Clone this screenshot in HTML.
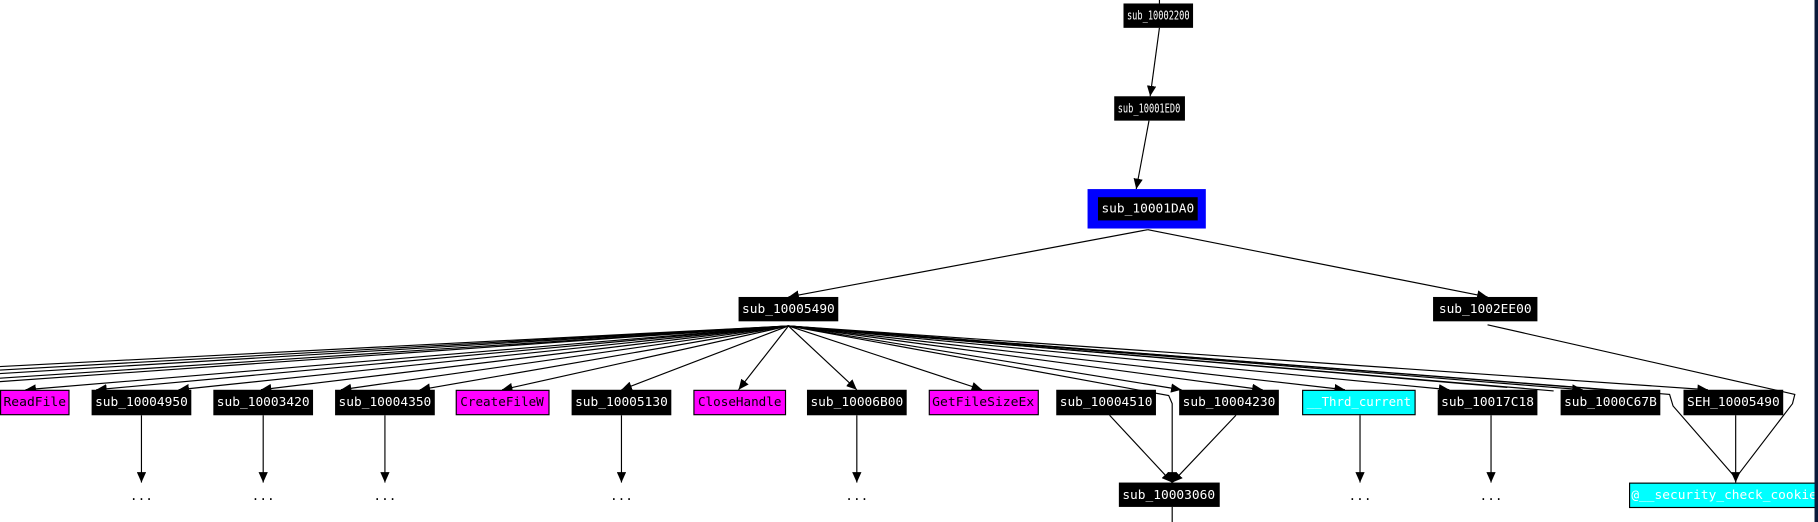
<!DOCTYPE html>
<html><head><meta charset="utf-8"><style>
html,body{margin:0;padding:0;background:#fff;width:1818px;height:522px;overflow:hidden}
svg{display:block}
text{font-family:"DejaVu Sans Mono","Liberation Mono",monospace;font-size:11px;dominant-baseline:central;text-anchor:middle}
</style></head><body>
<svg width="1818" height="522" viewBox="0 0 1568 450" preserveAspectRatio="none" xmlns="http://www.w3.org/2000/svg">
<defs><marker id="a" markerWidth="9" markerHeight="8" refX="9" refY="4" orient="auto" markerUnits="userSpaceOnUse" viewBox="0 0 9 8"><path d="M0,0 L9,4 L0,8 z" fill="#000" stroke="none"/></marker></defs>
<g stroke="#000" stroke-width="1" fill="none">
<line x1="1000" y1="0" x2="1000" y2="3"/>
<line x1="1000" y1="24" x2="992" y2="83" marker-end="url(#a)"/>
<line x1="991" y1="104" x2="980" y2="163" marker-end="url(#a)"/>
<line x1="990" y1="198" x2="680" y2="256" marker-end="url(#a)"/>
<line x1="990" y1="198" x2="1283" y2="256" marker-end="url(#a)"/>
<line x1="680" y1="281" x2="0" y2="316"/>
<line x1="680" y1="281" x2="0" y2="319"/>
<line x1="680" y1="281" x2="0" y2="322"/>
<line x1="680" y1="281" x2="0" y2="326"/>
<line x1="680" y1="281" x2="0" y2="329"/>
<line x1="680" y1="281" x2="22" y2="336" marker-end="url(#a)"/>
<line x1="680" y1="281" x2="83" y2="336" marker-end="url(#a)"/>
<line x1="680" y1="281" x2="154" y2="336" marker-end="url(#a)"/>
<line x1="680" y1="281" x2="225" y2="336" marker-end="url(#a)"/>
<line x1="680" y1="281" x2="294" y2="336" marker-end="url(#a)"/>
<line x1="680" y1="281" x2="362" y2="336" marker-end="url(#a)"/>
<line x1="680" y1="281" x2="433" y2="336" marker-end="url(#a)"/>
<line x1="680" y1="281" x2="536" y2="336" marker-end="url(#a)"/>
<line x1="680" y1="281" x2="637" y2="336" marker-end="url(#a)"/>
<line x1="680" y1="281" x2="739" y2="336" marker-end="url(#a)"/>
<line x1="680" y1="281" x2="847" y2="336" marker-end="url(#a)"/>
<line x1="680" y1="281" x2="1019" y2="336" marker-end="url(#a)"/>
<line x1="680" y1="281" x2="1089" y2="336" marker-end="url(#a)"/>
<line x1="680" y1="281" x2="1160" y2="336" marker-end="url(#a)"/>
<line x1="680" y1="281" x2="1250" y2="336" marker-end="url(#a)"/>
<line x1="680" y1="281" x2="1365" y2="336" marker-end="url(#a)"/>
<line x1="680" y1="281" x2="1473" y2="336" marker-end="url(#a)"/>
<line x1="680" y1="281" x2="1300" y2="334"/>
<line x1="680" y1="281" x2="1340" y2="337"/>
<line x1="680" y1="281" x2="1385" y2="336"/>
<polyline points="680,281 1008,341 1011,348 1011,416" marker-end="url(#a)"/>
<polyline points="680,281 1440,340 1443,350 1497,412"/>
<polyline points="1283,280 1548,340 1546,348 1497,412"/>
<line x1="1497" y1="358" x2="1497" y2="416" marker-end="url(#a)"/>
<line x1="957" y1="358" x2="1011" y2="416" marker-end="url(#a)"/>
<line x1="1066" y1="358" x2="1011" y2="416" marker-end="url(#a)"/>
<line x1="1011" y1="437" x2="1011" y2="450"/>
<line x1="122" y1="358" x2="122" y2="416" marker-end="url(#a)"/>
<line x1="227" y1="358" x2="227" y2="416" marker-end="url(#a)"/>
<line x1="332" y1="358" x2="332" y2="416" marker-end="url(#a)"/>
<line x1="536" y1="358" x2="536" y2="416" marker-end="url(#a)"/>
<line x1="739" y1="358" x2="739" y2="416" marker-end="url(#a)"/>
<line x1="1173" y1="358" x2="1173" y2="416" marker-end="url(#a)"/>
<line x1="1286" y1="358" x2="1286" y2="416" marker-end="url(#a)"/>
</g>
<g lengthAdjust="spacingAndGlyphs">
<rect x="969" y="3" width="60" height="21" fill="#000"/><text x="999" y="14" fill="#fff" textLength="54" lengthAdjust="spacingAndGlyphs">sub_10002200</text>
<rect x="961" y="83" width="61" height="21" fill="#000"/><text x="991" y="94" fill="#fff" textLength="54" lengthAdjust="spacingAndGlyphs">sub_10001ED0</text>
<rect x="938" y="163" width="102" height="34" fill="#0000ff"/>
<rect x="947" y="170" width="86" height="20" fill="#000"/><text x="990" y="180" fill="#fff" textLength="80" lengthAdjust="spacingAndGlyphs">sub_10001DA0</text>
<rect x="637" y="256" width="86" height="21" fill="#000"/><text x="680" y="267" fill="#fff" textLength="80" lengthAdjust="spacingAndGlyphs">sub_10005490</text>
<rect x="1236" y="256" width="90" height="21" fill="#000"/><text x="1281" y="267" fill="#fff" textLength="80" lengthAdjust="spacingAndGlyphs">sub_1002EE00</text>

<rect x="0.5" y="336.5" width="59" height="21" fill="#ff00ff" stroke="#000"/><text x="30" y="347" fill="#000" textLength="54" lengthAdjust="spacingAndGlyphs">ReadFile</text>
<rect x="79" y="336" width="86" height="22" fill="#000"/><text x="122" y="347" fill="#fff" textLength="80" lengthAdjust="spacingAndGlyphs">sub_10004950</text>
<rect x="184" y="336" width="86" height="22" fill="#000"/><text x="227" y="347" fill="#fff" textLength="80" lengthAdjust="spacingAndGlyphs">sub_10003420</text>
<rect x="289" y="336" width="86" height="22" fill="#000"/><text x="332" y="347" fill="#fff" textLength="80" lengthAdjust="spacingAndGlyphs">sub_10004350</text>
<rect x="393.5" y="336.5" width="80" height="21" fill="#ff00ff" stroke="#000"/><text x="433" y="347" fill="#000" textLength="72" lengthAdjust="spacingAndGlyphs">CreateFileW</text>
<rect x="493" y="336" width="86" height="22" fill="#000"/><text x="536" y="347" fill="#fff" textLength="80" lengthAdjust="spacingAndGlyphs">sub_10005130</text>
<rect x="598.5" y="336.5" width="79" height="21" fill="#ff00ff" stroke="#000"/><text x="638" y="347" fill="#000" textLength="72" lengthAdjust="spacingAndGlyphs">CloseHandle</text>
<rect x="696" y="336" width="86" height="22" fill="#000"/><text x="739" y="347" fill="#fff" textLength="80" lengthAdjust="spacingAndGlyphs">sub_10006B00</text>
<rect x="801.5" y="336.5" width="94" height="21" fill="#ff00ff" stroke="#000"/><text x="848" y="347" fill="#000" textLength="88" lengthAdjust="spacingAndGlyphs">GetFileSizeEx</text>
<rect x="911" y="336" width="86" height="22" fill="#000"/><text x="954" y="347" fill="#fff" textLength="80" lengthAdjust="spacingAndGlyphs">sub_10004510</text>
<rect x="1017" y="336" width="86" height="22" fill="#000"/><text x="1060" y="347" fill="#fff" textLength="80" lengthAdjust="spacingAndGlyphs">sub_10004230</text>
<rect x="1123.5" y="336.5" width="97" height="21" fill="#00ffff" stroke="#000"/><text x="1172" y="347" fill="#fff" textLength="90" lengthAdjust="spacingAndGlyphs">__Thrd_current</text>
<rect x="1240" y="336" width="86" height="22" fill="#000"/><text x="1283" y="347" fill="#fff" textLength="80" lengthAdjust="spacingAndGlyphs">sub_10017C18</text>
<rect x="1346" y="336" width="86" height="22" fill="#000"/><text x="1389" y="347" fill="#fff" textLength="80" lengthAdjust="spacingAndGlyphs">sub_1000C67B</text>
<rect x="1452" y="336" width="86" height="22" fill="#000"/><text x="1495" y="347" fill="#fff" textLength="80" lengthAdjust="spacingAndGlyphs">SEH_10005490</text>

<rect x="965" y="416" width="87" height="21" fill="#000"/><text x="1008" y="427" fill="#fff" textLength="80" lengthAdjust="spacingAndGlyphs">sub_10003060</text>
<rect x="1405.5" y="416.5" width="165" height="21" fill="#00ffff" stroke="#000"/><text x="1407" y="427" fill="#fff" textLength="160" lengthAdjust="spacingAndGlyphs" style="text-anchor:start">@__security_check_cookie</text>
<rect x="1565" y="0" width="3" height="450" fill="#0a1a3a"/>
</g>
<g fill="#000">
<text x="122" y="428">...</text><text x="227" y="428">...</text><text x="332" y="428">...</text>
<text x="536" y="428">...</text><text x="739" y="428">...</text><text x="1173" y="428">...</text><text x="1286" y="428">...</text>
</g>
</svg>
</body></html>
